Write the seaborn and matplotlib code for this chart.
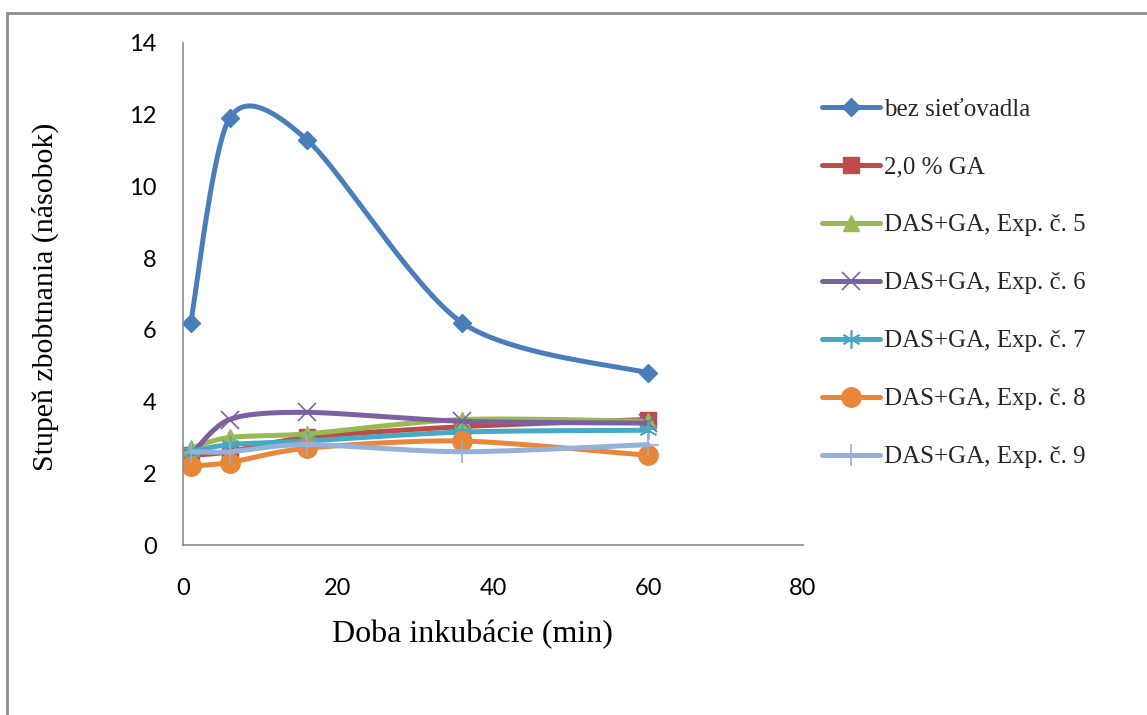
import numpy as np
import pandas as pd
import matplotlib
matplotlib.use("Agg")
import matplotlib.pyplot as plt
from matplotlib.lines import Line2D
import seaborn as sns

# Incubation times (min)
time_min = [1, 6, 16, 36, 60]

# Swelling degree (fold) for each sample
bez_sietovadla = [6.2, 11.9, 11.3, 6.2, 4.8]
ga_2 = [2.5, 2.6, 3.0, 3.3, 3.5]
exp5 = [2.7, 3.0, 3.1, 3.5, 3.45]
exp6 = [2.5, 3.5, 3.7, 3.45, 3.4]
exp7 = [2.6, 2.8, 2.9, 3.15, 3.2]
exp8 = [2.2, 2.3, 2.7, 2.9, 2.5]
exp9 = [2.6, 2.6, 2.8, 2.6, 2.8]

labels = ["bez sieťovadla", "2,0 % GA", "DAS+GA, Exp. č. 5", "DAS+GA, Exp. č. 6",
          "DAS+GA, Exp. č. 7", "DAS+GA, Exp. č. 8", "DAS+GA, Exp. č. 9"]
series = [bez_sietovadla, ga_2, exp5, exp6, exp7, exp8, exp9]

x_ticks = [0, 20, 40, 60, 80]
y_ticks = [0, 2, 4, 6, 8, 10, 12, 14]

colors = ["#4A7EBB", "#BE4B48", "#98B954", "#7D60A0", "#46AAC5", "#E8873A", "#93B1DA"]
markers = ["D", "s", "^", "x", (6, 2, 0), "o", "+"]
msizes = [9, 11, 11, 13, 13, 14, 16]


def smooth_curve(xs, ys, n=40, tension=0.85):
    """Cardinal Bezier smoothing through the data points."""
    p = np.column_stack([xs, ys]).astype(float)
    pts = np.vstack([p[0], p, p[-1]])
    out = []
    t = np.linspace(0, 1, n)[:, None]
    k = tension / 6.0
    for i in range(1, len(pts) - 2):
        p0, p1, p2, p3 = pts[i - 1], pts[i], pts[i + 1], pts[i + 2]
        c1 = p1 + (p2 - p0) * k
        c2 = p2 - (p3 - p1) * k
        seg = ((1 - t) ** 3) * p1 + 3 * ((1 - t) ** 2) * t * c1 + 3 * (1 - t) * t ** 2 * c2 + t ** 3 * p2
        out.append(seg if i == 1 else seg[1:])
    seg = np.vstack(out)
    return seg[:, 0], seg[:, 1]


sns.set_theme(style="white")
plt.rcParams["font.family"] = ["Liberation Serif", "DejaVu Serif"]

fig = plt.figure(figsize=(11.47, 7.15), dpi=100)
ax = fig.add_axes([183 / 1147, 1 - 545 / 715, (803 - 183) / 1147, (545 - 43) / 715])

handles = []
for lab, ys, c, m, ms in zip(labels, series, colors, markers, msizes):
    sx, sy = smooth_curve(time_min, ys)
    df = pd.DataFrame({"x": sx, "y": sy})
    sns.lineplot(data=df, x="x", y="y", ax=ax, color=c, linewidth=3.6,
                 sort=False, estimator=None, legend=False)
    mew = 1.2 if m in ("x", "+") or isinstance(m, tuple) else 1
    ax.plot(time_min, ys, linestyle="none", marker=m, markersize=ms, color=c,
            markeredgecolor=c, markeredgewidth=mew)
    handles.append(Line2D([], [], color=c, linewidth=3.6, marker=m, markersize=ms,
                          markeredgecolor=c, markeredgewidth=mew))

ax.set_xlim(0, 80)
ax.set_ylim(0, 14)
ax.set_xticks(x_ticks)
ax.set_yticks(y_ticks)
ax.set_xticklabels([str(v) for v in x_ticks], family="Lato", fontsize=17)
ax.set_yticklabels([str(v) for v in y_ticks], family="Lato", fontsize=17)
ax.tick_params(axis="both", length=0, colors="black")
ax.tick_params(axis="y", pad=19)
ax.tick_params(axis="x", pad=24)

for side in ("top", "right"):
    ax.spines[side].set_visible(False)
for side in ("left", "bottom"):
    ax.spines[side].set_color("#8C8C8C")
    ax.spines[side].set_linewidth(1.2)

ax.set_xlabel("Doba inkubácie (min)", fontsize=23, color="black")
ax.set_ylabel("Stupeň zbobtnania (násobok)", fontsize=21.5, color="black")
ax.xaxis.set_label_coords((472 - 183) / 620, -(635 - 545) / 502, transform=ax.transAxes)
ax.xaxis.label.set_va("center")
ax.yaxis.set_label_coords(-(183 - 45) / 620, (545 - 297) / 502, transform=ax.transAxes)
ax.yaxis.label.set_va("center")

fig.legend(handles, labels, loc="upper left", bbox_to_anchor=(812 / 1147, 1 - 88 / 715),
           frameon=False, fontsize=18, labelspacing=1.42, handlelength=2.3,
           handletextpad=0.2, borderaxespad=0)

# Outer chart-area frame (top and left edges)
fig.add_artist(Line2D([7 / 1147, 1.0], [1 - 13 / 715, 1 - 13 / 715], color="#8C8C8C",
                      linewidth=2, transform=fig.transFigure))
fig.add_artist(Line2D([7 / 1147, 7 / 1147], [0.0, 1 - 13 / 715], color="#8C8C8C",
                      linewidth=2, transform=fig.transFigure))

fig.savefig("out.png", dpi=100)
